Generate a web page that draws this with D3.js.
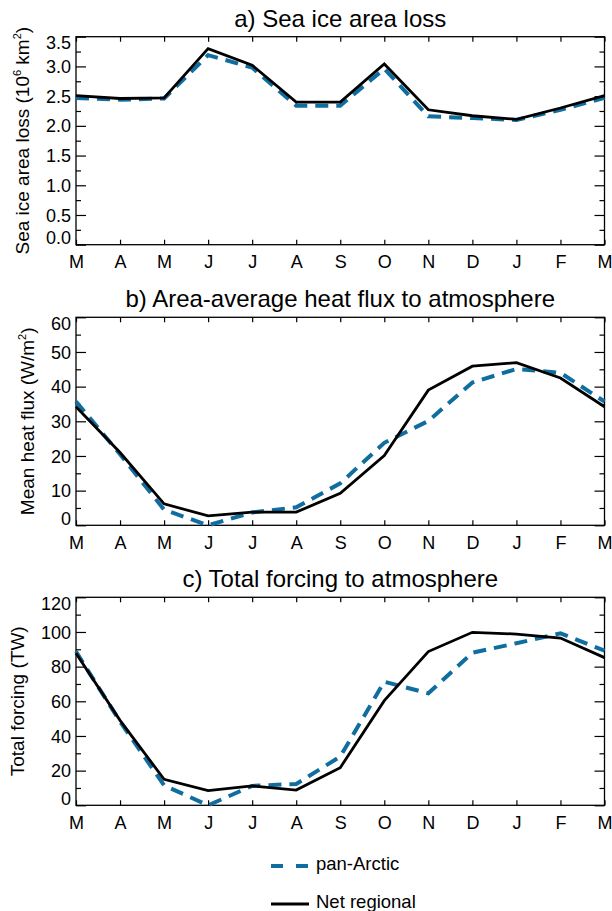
<!DOCTYPE html>
<html>
<head>
<meta charset="utf-8">
<script src="https://d3js.org/d3.v7.min.js"></script>
<style>
  body { margin: 0; background: #fff; overflow: hidden; }
  svg { display: block; font-family: "Liberation Sans", Arial, sans-serif; }
  .tick line { stroke: #000; stroke-width: 1.2; }
</style>
</head>
<body>
<div id="chart"></div>
<script>
// months March -> March
var months = ["M", "A", "M", "J", "J", "A", "S", "O", "N", "D", "J", "F", "M"];

// a) sea ice area loss (10^6 km^2)
var areaPan = [2.47, 2.44, 2.46, 3.19, 2.98, 2.34, 2.34, 2.96, 2.16, 2.13, 2.10, 2.27, 2.47];
var areaNet = [2.51, 2.46, 2.47, 3.30, 3.02, 2.40, 2.40, 3.04, 2.27, 2.17, 2.11, 2.30, 2.51];

// b) mean heat flux (W/m2)
var fluxPan = [35.7, 20.5, 4.5, 0.0, 3.7, 5.2, 12.1, 23.8, 30.1, 41.2, 45.1, 44.0, 35.7];
var fluxNet = [34.2, 21.0, 6.2, 2.7, 3.8, 3.8, 9.2, 20.1, 39.0, 45.9, 46.9, 42.5, 34.2];

// c) total forcing (TW)
var forcingPan = [88.7, 48.3, 11.5, 0.0, 11.2, 12.3, 28.1, 71.3, 64.6, 88.0, 93.5, 99.2, 89.2];
var forcingNet = [87.7, 49.0, 15.0, 8.5, 11.2, 8.8, 21.7, 60.4, 88.7, 99.8, 98.8, 96.5, 85.2];

var blue = "#0f6e9f";
var width = 612, height = 911;
var left = 76, right = 604.5;

var svg = d3.select("#chart").append("svg")
    .attr("width", width)
    .attr("height", height);

var x = d3.scaleLinear().domain([0, months.length - 1]).range([left, right]);

var panels = [
  { title: "a) Sea ice area loss", top: 36.7, pan: areaPan, net: areaNet,
    max: 3.5, major: 0.5, minor: 0.25, fmt: d3.format(".1f"),
    label: ["Sea ice area loss (10", "6", " km", "2", ")"], labelX: 22 },
  { title: "b) Area-average heat flux to atmosphere", top: 317.3, pan: fluxPan, net: fluxNet,
    max: 60, major: 10, minor: 5, fmt: d3.format("d"),
    label: ["Mean heat flux (W/m", "2", ")"], labelX: 27.5 },
  { title: "c) Total forcing to atmosphere", top: 597.3, pan: forcingPan, net: forcingNet,
    max: 120, major: 20, minor: 10, fmt: d3.format("d"),
    label: ["Total forcing (TW)"], labelX: 17.5 }
];
var ph = 208;

panels.forEach(function(p) {
  var bottom = p.top + ph;
  var y = d3.scaleLinear().domain([0, p.max]).range([bottom, p.top]);
  var g = svg.append("g");

  var majors = d3.range(0, p.max + p.major / 2, p.major);
  var minors = d3.range(0, p.max + p.minor / 2, p.minor).filter(function(v) {
    return Math.abs(v / p.major - Math.round(v / p.major)) > 1e-6;
  });

  // title
  g.append("text")
    .attr("x", (left + right) / 2)
    .attr("y", p.top - 10)
    .attr("text-anchor", "middle")
    .attr("font-size", 24)
    .text(p.title);

  // left axis, inward ticks
  var yl = g.append("g").attr("transform", "translate(" + left + ",0)")
    .call(d3.axisLeft(y).tickValues(majors).tickSize(-10).tickSizeOuter(0)
      .tickPadding(5).tickFormat(p.fmt));
  yl.selectAll("text")
    .attr("font-size", 18)
    .attr("font-family", "Liberation Sans, Arial, sans-serif")
    .attr("fill", "#000")
    .attr("dy", function(d) {
      if (d === 0) return "-0.05em";
      if (Math.abs(d - p.max) < 1e-6) return "0.68em";
      return "0.34em";
    });
  g.append("g").attr("transform", "translate(" + left + ",0)")
    .call(d3.axisLeft(y).tickValues(minors).tickSize(-5).tickSizeOuter(0).tickFormat(""));

  // right axis
  g.append("g").attr("transform", "translate(" + right + ",0)")
    .call(d3.axisRight(y).tickValues(majors).tickSize(-10).tickSizeOuter(0).tickFormat(""));
  g.append("g").attr("transform", "translate(" + right + ",0)")
    .call(d3.axisRight(y).tickValues(minors).tickSize(-5).tickSizeOuter(0).tickFormat(""));

  // bottom and top axes
  var xb = g.append("g").attr("transform", "translate(0," + bottom + ")")
    .call(d3.axisBottom(x).tickValues(d3.range(months.length))
      .tickSize(-5).tickSizeOuter(0).tickPadding(11)
      .tickFormat(function(i) { return months[i]; }));
  xb.selectAll("text")
    .attr("font-size", 18)
    .attr("font-family", "Liberation Sans, Arial, sans-serif")
    .attr("fill", "#000");
  g.append("g").attr("transform", "translate(0," + p.top + ")")
    .call(d3.axisTop(x).tickValues(d3.range(months.length))
      .tickSize(-5).tickSizeOuter(0).tickFormat(""));

  g.selectAll(".domain").remove();

  // frame
  g.append("rect")
    .attr("x", left).attr("y", p.top)
    .attr("width", right - left).attr("height", ph)
    .attr("fill", "none").attr("stroke", "#000").attr("stroke-width", 1.3);

  // y label
  var lab = g.append("text")
    .attr("transform", "translate(" + p.labelX + "," + (p.top + ph / 2) + ") rotate(-90)")
    .attr("text-anchor", "middle")
    .attr("dy", "0.35em")
    .attr("font-size", 19);
  p.label.forEach(function(s, i) {
    var sup = i % 2 === 1;
    var t = lab.append("tspan").text(s);
    if (sup) t.attr("font-size", 11).attr("dy", -8);
    else if (i > 0) t.attr("dy", 8);
  });

  var line = d3.line()
    .x(function(d, i) { return x(i); })
    .y(function(d) { return y(d); });

  g.append("path")
    .datum(p.pan)
    .attr("d", line)
    .attr("fill", "none")
    .attr("stroke", blue)
    .attr("stroke-width", 4)
    .attr("stroke-dasharray", "13,8");

  g.append("path")
    .datum(p.net)
    .attr("d", line)
    .attr("fill", "none")
    .attr("stroke", "#000")
    .attr("stroke-width", 2.8);
});

// legend
var legend = [
  { name: "pan-Arctic", color: blue, dash: "12,13", w: 4, y: 866 },
  { name: "Net regional", color: "#000", dash: null, w: 3, y: 904 }
];
var lg = svg.append("g");
legend.forEach(function(d) {
  lg.append("line")
    .attr("x1", 271).attr("x2", 309)
    .attr("y1", d.y).attr("y2", d.y)
    .attr("stroke", d.color)
    .attr("stroke-width", d.w)
    .attr("stroke-dasharray", d.dash);
  lg.append("text")
    .attr("x", 316).attr("y", d.y + 3.5)
    .attr("font-size", 18.5)
    .text(d.name);
});
</script>
</body>
</html>
